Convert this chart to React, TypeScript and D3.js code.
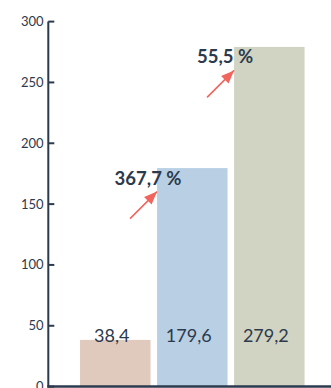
import React from "react";
import * as d3 from "d3";

const categories = ["A", "B", "C"];
const values = [38.4, 179.6, 279.2];
const valueLabels = ["38,4", "179,6", "279,2"];
const barColors = ["#e0cabd", "#b8cfe4", "#d1d4c3"];
const growthLabels = [null, "367,7 %", "55,5 %"];
const yTicks = [0, 50, 100, 150, 200, 250, 300];

const W = 331;
const H = 388;
const TEXT = "#2c3a4d";
const ARROW = "#f0665f";
const FONT = "Lato, 'Open Sans', sans-serif";

export default function App() {
  const y = d3.scaleLinear().domain([0, 300]).range([386.6, 21.6]);
  const x = d3
    .scaleBand<string>()
    .domain(categories)
    .range([76.2, 308.4])
    .paddingInner(0.085)
    .paddingOuter(0.05);
  const axisX = 48.3;
  const base = y(0);

  return (
    <svg
      width={W}
      height={H}
      style={{ position: "absolute", left: 0, top: 0, background: "#fff" }}
    >
      <defs>
        <marker
          id="ah"
          viewBox="0 0 10 10"
          refX="10"
          refY="5"
          markerWidth="7"
          markerHeight="7"
          markerUnits="userSpaceOnUse"
          orient="auto"
        >
          <path d="M0,0 L10,5 L0,10 z" fill={ARROW} />
        </marker>
      </defs>
      {categories.map((c, i) => {
        const bx = x(c)!;
        const bw = x.bandwidth();
        const top = y(values[i]);
        return (
          <g key={c}>
            <rect x={bx} y={top} width={bw} height={base - top} fill={barColors[i]} />
            <text
              x={bx + bw / 2 - 3.5}
              y={341.5}
              textAnchor="middle"
              fontFamily={FONT}
              fontSize={18}
              fill={TEXT}
            >
              {valueLabels[i]}
            </text>
            {growthLabels[i] && (
              <g>
                <text
                  x={bx - 9}
                  y={top + 16.5}
                  textAnchor="middle"
                  fontFamily={FONT}
                  fontWeight="bold"
                  fontSize={18.5}
                  fill={TEXT}
                >
                  {growthLabels[i]}
                </text>
                <line
                  x1={bx - 27}
                  y1={top + 50.5}
                  x2={bx}
                  y2={top + 23.5}
                  stroke={ARROW}
                  strokeWidth={1.6}
                />
                <path
                  d={`M${bx},${top + 23.5} L${bx - 13},${top + 29} L${bx - 5.5},${top + 36.5} z`}
                  fill={ARROW}
                />
              </g>
            )}
          </g>
        );
      })}
      {/* y axis */}
      <line x1={axisX} y1={y(300)} x2={axisX} y2={base + 1} stroke={TEXT} strokeWidth={2} />
      {yTicks.map((t) => (
        <g key={t}>
          <line x1={axisX} x2={axisX + 6} y1={y(t)} y2={y(t)} stroke={TEXT} strokeWidth={2} />
          <text
            x={43.5}
            y={y(t)}
            dy="0.35em"
            textAnchor="end"
            fontFamily={FONT}
            fontSize={13}
            fill={TEXT}
          >
            {t}
          </text>
        </g>
      ))}
      {/* x axis */}
      <line x1={axisX - 1} x2={W} y1={base} y2={base} stroke={TEXT} strokeWidth={2.5} />
    </svg>
  );
}
